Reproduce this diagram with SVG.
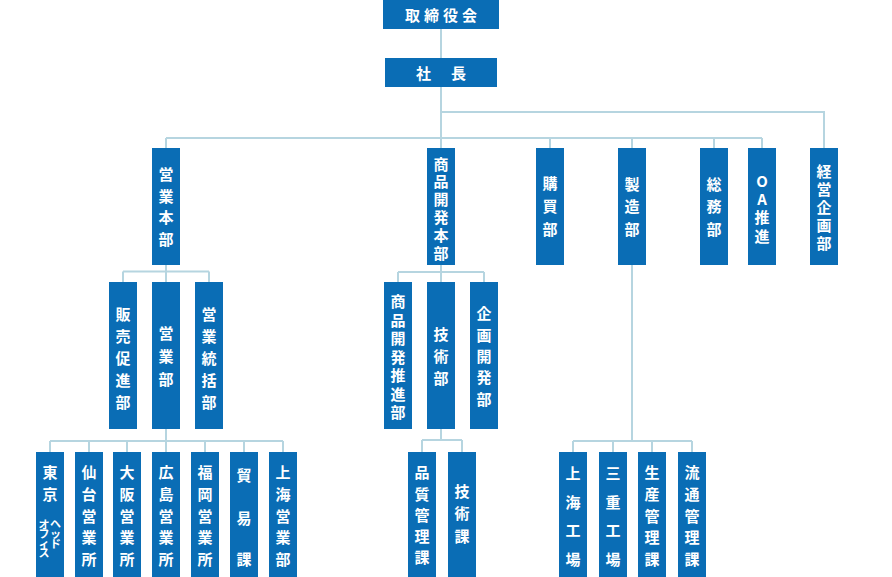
<svg xmlns="http://www.w3.org/2000/svg" width="892" height="577" viewBox="0 0 892 577">
<style>
.b{fill:#0a6db5}
.t{fill:#fff;font-family:"Noto Sans CJK JP","Noto Sans",sans-serif;font-weight:bold;font-size:15px;text-anchor:middle;dominant-baseline:central}
.s{font-size:11px}
.c{fill:none;stroke:#b6d5e0;stroke-width:2}
</style>
<rect width="892" height="577" fill="#fff"/>
<g id="connectors" class="c">
<path d="M441 28V58M441 87V138M441 112H824V148M166 138H762M166 138V148M441 138V148M550 138V148M632 138V148M714 138V148M762 138V148"/>
<path d="M166 265V282M123 271.5H209M123 271.5V282M209 271.5V282"/>
<path d="M441 265V282M398 272H484M398 272V282M484 272V282"/>
<path d="M166 429V452M50 441H283M50 441V452M89 441V452M127 441V452M205 441V452M244 441V452M283 441V452"/>
<path d="M441 429V440M422 440H462M422 440V452M462 440V452"/>
<path d="M632 265V441M573 441H692M573 441V452M613 441V452M652 441V452M692 441V452"/>
</g>
<g id="n-board"><rect class="b" x="383" y="0" width="116" height="29"/><text class="t" x="412.5 431.5 450.5 469.5" y="14.5">取締役会</text></g>
<g id="n-president"><rect class="b" x="385" y="58" width="112" height="29"/><text class="t" x="423.5 458.5" y="72.5">社長</text></g>

<g id="n-eigyo-honbu"><rect class="b" x="152" y="148" width="28" height="117"/><text class="t" x="166 166 166 166" y="173.5 195.2 216.8 238.5">営業本部</text></g>
<g id="n-shohin-honbu"><rect class="b" x="427" y="148" width="28" height="117"/><text class="t" x="441 441 441 441 441 441" y="163 180.8 198.6 216.4 234.2 252">商品開発本部</text></g>
<g id="n-kobai"><rect class="b" x="536" y="148" width="28" height="117"/><text class="t" x="550 550 550" y="182.5 205.2 228">購買部</text></g>
<g id="n-seizo"><rect class="b" x="618" y="148" width="28" height="117"/><text class="t" x="632 632 632" y="183 205.5 228">製造部</text></g>
<g id="n-somu"><rect class="b" x="700" y="148" width="28" height="117"/><text class="t" x="714 714 714" y="183 205.5 228">総務部</text></g>
<g id="n-oa"><rect class="b" x="748" y="148" width="28" height="117"/><text class="t" x="762 762 762 762" y="180 198.3 216.7 235">OA推進</text></g>
<g id="n-keiei"><rect class="b" x="810" y="148" width="28" height="117"/><text class="t" x="824 824 824 824 824" y="170 188 206 224 242">経営企画部</text></g>

<g id="n-hanbai"><rect class="b" x="109" y="282" width="28" height="147"/><text class="t" x="123 123 123 123 123" y="313.5 335.5 357.5 379.5 401.5">販売促進部</text></g>
<g id="n-eigyobu"><rect class="b" x="152" y="282" width="28" height="147"/><text class="t" x="166 166 166" y="332 355 378">営業部</text></g>
<g id="n-tokatsu"><rect class="b" x="195" y="282" width="28" height="147"/><text class="t" x="209 209 209 209 209" y="313.5 335.5 357.5 379.5 401.5">営業統括部</text></g>
<g id="n-suishin"><rect class="b" x="384" y="282" width="28" height="147"/><text class="t" x="398 398 398 398 398 398 398" y="300.7 319.2 337.7 356.2 374.7 393.2 411.7">商品開発推進部</text></g>
<g id="n-gijutsubu"><rect class="b" x="427" y="282" width="28" height="147"/><text class="t" x="441 441 441" y="333 355 377">技術部</text></g>
<g id="n-kikaku"><rect class="b" x="470" y="282" width="28" height="147"/><text class="t" x="484 484 484 484 484" y="312.7 334.1 355.5 376.9 398.3">企画開発部</text></g>

<g id="n-tokyo"><rect class="b" x="36" y="452" width="28" height="125"/><text class="t" x="50 50" y="471.7 493.3">東京</text><text class="t s" x="55.5 55.5 55.5" y="523 533 543">ヘッド</text><text class="t s" x="44 44 44 44" y="524 533 542.7 551.7">オフィス</text></g>
<g id="n-sendai"><rect class="b" x="75" y="452" width="28" height="125"/><text class="t" x="89 89 89 89 89" y="471.7 493.4 515 536.6 558.3">仙台営業所</text></g>
<g id="n-osaka"><rect class="b" x="113" y="452" width="28" height="125"/><text class="t" x="127 127 127 127 127" y="471.7 493.4 515 536.6 558.3">大阪営業所</text></g>
<g id="n-hiroshima"><rect class="b" x="152" y="452" width="28" height="125"/><text class="t" x="166 166 166 166 166" y="471.7 493.4 515 536.6 558.3">広島営業所</text></g>
<g id="n-fukuoka"><rect class="b" x="191" y="452" width="28" height="125"/><text class="t" x="205 205 205 205 205" y="471.7 493.4 515 536.6 558.3">福岡営業所</text></g>
<g id="n-boeki"><rect class="b" x="230" y="452" width="28" height="125"/><text class="t" x="244 244 244" y="474.5 517 558.3">貿易課</text></g>
<g id="n-shanghai-eigyo"><rect class="b" x="269" y="452" width="28" height="125"/><text class="t" x="283 283 283 283 283" y="471.7 493.4 515 536.6 558.3">上海営業部</text></g>
<g id="n-hinshitsu"><rect class="b" x="408" y="452" width="28" height="125"/><text class="t" x="422 422 422 422 422" y="471.7 493 514.2 535.5 556.7">品質管理課</text></g>
<g id="n-gijutsuka"><rect class="b" x="448" y="452" width="28" height="125"/><text class="t" x="462 462 462" y="490 512.5 535">技術課</text></g>
<g id="n-shanghai-kojo"><rect class="b" x="559" y="452" width="28" height="125"/><text class="t" x="573 573 573 573" y="472.7 501.2 529.7 558.2">上海工場</text></g>
<g id="n-mie"><rect class="b" x="599" y="452" width="28" height="125"/><text class="t" x="613 613 613 613" y="472.7 501.2 529.7 558.2">三重工場</text></g>
<g id="n-seisan"><rect class="b" x="638" y="452" width="28" height="125"/><text class="t" x="652 652 652 652 652" y="471.7 493.4 515 536.6 558.3">生産管理課</text></g>
<g id="n-ryutsu"><rect class="b" x="678" y="452" width="28" height="125"/><text class="t" x="692 692 692 692 692" y="471.7 493.4 515 536.6 558.3">流通管理課</text></g>
</svg>
